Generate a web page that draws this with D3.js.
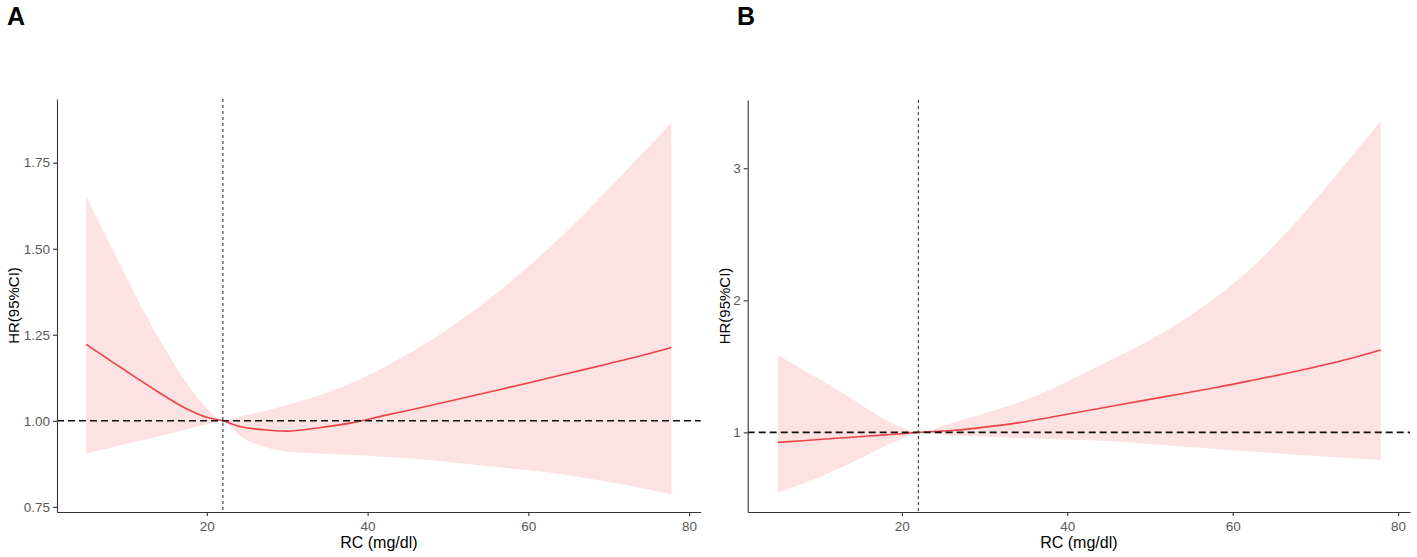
<!DOCTYPE html>
<html>
<head>
<meta charset="utf-8">
<script src="https://cdn.jsdelivr.net/npm/d3@7"></script>
<style>
  body { margin: 0; background: #fff; }
  svg text { font-family: "Liberation Sans", Arial, sans-serif; }
</style>
</head>
<body>
<div id="chart"></div>
<script>
// data
const rcA    = [5, 8, 10, 12, 14, 16, 18, 20, 22, 24, 27, 30, 34, 38, 42, 46, 50, 55, 60, 65, 70, 74, 77.8];
const hrA    = [1.222, 1.175, 1.144, 1.113, 1.083, 1.054, 1.029, 1.010, 1.000, 0.984, 0.974, 0.970, 0.980, 0.994, 1.015, 1.035, 1.056, 1.083, 1.110, 1.138, 1.166, 1.189, 1.213];
const upperA = [1.651, 1.511, 1.418, 1.325, 1.241, 1.163, 1.093, 1.036, 1.000, 1.012, 1.028, 1.046, 1.074, 1.110, 1.155, 1.207, 1.267, 1.352, 1.448, 1.556, 1.674, 1.772, 1.867];
const lowerA = [0.905, 0.922, 0.933, 0.944, 0.955, 0.966, 0.978, 0.989, 1.000, 0.958, 0.925, 0.911, 0.905, 0.901, 0.895, 0.890, 0.880, 0.868, 0.856, 0.842, 0.822, 0.805, 0.786];

const rcB    = [5, 8, 10, 12, 14, 16, 18, 20, 22, 26, 30, 34, 38, 42, 46, 50, 54, 58, 62, 66, 70, 74, 77.9];
const hrB    = [0.924, 0.937, 0.946, 0.955, 0.963, 0.972, 0.981, 0.990, 1.000, 1.014, 1.040, 1.072, 1.115, 1.160, 1.205, 1.250, 1.295, 1.340, 1.390, 1.440, 1.495, 1.555, 1.623];
const upperB = [1.585, 1.477, 1.405, 1.330, 1.252, 1.172, 1.095, 1.035, 1.000, 1.070, 1.145, 1.225, 1.325, 1.445, 1.570, 1.700, 1.850, 2.025, 2.230, 2.480, 2.760, 3.060, 3.360];
const lowerB = [0.542, 0.611, 0.659, 0.715, 0.773, 0.835, 0.897, 0.952, 1.000, 0.974, 0.967, 0.958, 0.950, 0.942, 0.930, 0.912, 0.893, 0.874, 0.855, 0.838, 0.821, 0.805, 0.790];

const xTicks  = [20, 40, 60, 80];
const yTicksA = [0.75, 1.00, 1.25, 1.50, 1.75];
const yTicksB = [1, 2, 3];
const panelLabels = ['A', 'B'];
const refRC = 22;   // vertical reference (knot)
const refHR = 1;    // horizontal reference
const xTitle = 'RC (mg/dl)';
const yTitle = 'HR(95%CI)';

// canvas
const W = 1417, H = 557;
const svg = d3.select('#chart').append('svg')
  .attr('width', W).attr('height', H);

// one panel
function drawPanel(o) {
  const x = d3.scaleLinear().domain([1.36, 81.44]).range([o.left, o.right]);
  const y = d3.scaleLinear().domain(o.yDomain).range([o.bottom, o.top]);
  const g = svg.append('g');

  const pts = o.rc.map((v, i) => ({ rc: v, hr: o.hr[i], lo: o.lower[i], hi: o.upper[i] }));

  // ribbon
  g.append('path')
    .datum(pts)
    .attr('fill', '#fde2e3')
    .attr('d', d3.area().curve(d3.curveMonotoneX)
      .x(d => x(d.rc)).y0(d => y(d.lo)).y1(d => y(d.hi)));

  // HR line
  g.append('path')
    .datum(pts)
    .attr('fill', 'none')
    .attr('stroke', '#ec4247')
    .attr('stroke-width', 1.6)
    .attr('d', d3.line().curve(d3.curveMonotoneX)
      .x(d => x(d.rc)).y(d => y(d.hr)));

  // reference lines
  g.append('line')
    .attr('x1', o.left).attr('x2', o.right)
    .attr('y1', y(refHR)).attr('y2', y(refHR))
    .attr('stroke', '#111').attr('stroke-width', 1.6)
    .attr('stroke-dasharray', '7,4');
  g.append('line')
    .attr('x1', x(refRC)).attr('x2', x(refRC))
    .attr('y1', o.top).attr('y2', o.bottom)
    .attr('stroke', '#4a4a4a').attr('stroke-width', 1.2)
    .attr('stroke-dasharray', '3,3');

  // axes
  const xAxis = g.append('g')
    .attr('transform', `translate(0,${o.bottom})`)
    .call(d3.axisBottom(x).tickValues(xTicks).tickSize(4).tickPadding(5).tickSizeOuter(0));
  const yAxis = g.append('g')
    .attr('transform', `translate(${o.left},0)`)
    .call(d3.axisLeft(y).tickValues(o.yTicks).tickFormat(o.fmt).tickSize(4).tickPadding(3).tickSizeOuter(0));
  [xAxis, yAxis].forEach(a => {
    a.select('.domain').attr('stroke', '#333').attr('stroke-width', 1.1);
    a.selectAll('.tick line').attr('stroke', '#333').attr('stroke-width', 1.1);
    a.selectAll('.tick text')
      .attr('fill', '#595959')
      .style('font-size', '13.5px');
  });

  // titles
  g.append('text')
    .attr('x', (o.left + o.right) / 2)
    .attr('y', 548)
    .attr('text-anchor', 'middle')
    .style('font-size', '16px')
    .attr('fill', '#000')
    .text(xTitle);
  g.append('text')
    .attr('transform', `translate(${o.yTitleX},${(o.top + o.bottom) / 2}) rotate(-90)`)
    .attr('text-anchor', 'middle')
    .attr('dy', '0.35em')
    .style('font-size', '15px')
    .attr('fill', '#000')
    .text(yTitle);

  // panel tag
  g.append('text')
    .attr('x', o.tagX)
    .attr('y', 25)
    .style('font-size', '25px')
    .style('font-weight', 'bold')
    .attr('fill', '#000')
    .text(o.tag);
}

drawPanel({
  rc: rcA, hr: hrA, upper: upperA, lower: lowerA,
  left: 57, right: 700.7, top: 99, bottom: 512,
  yDomain: [0.735, 1.935], yTicks: yTicksA, fmt: d3.format('.2f'),
  yTitleX: 14, tag: panelLabels[0], tagX: 7
});

drawPanel({
  rc: rcB, hr: hrB, upper: upperB, lower: lowerB,
  left: 747.7, right: 1410, top: 100, bottom: 512,
  yDomain: [0.397, 3.517], yTicks: yTicksB, fmt: d3.format('d'),
  yTitleX: 724.5, tag: panelLabels[1], tagX: 737
});
</script>
</body>
</html>
